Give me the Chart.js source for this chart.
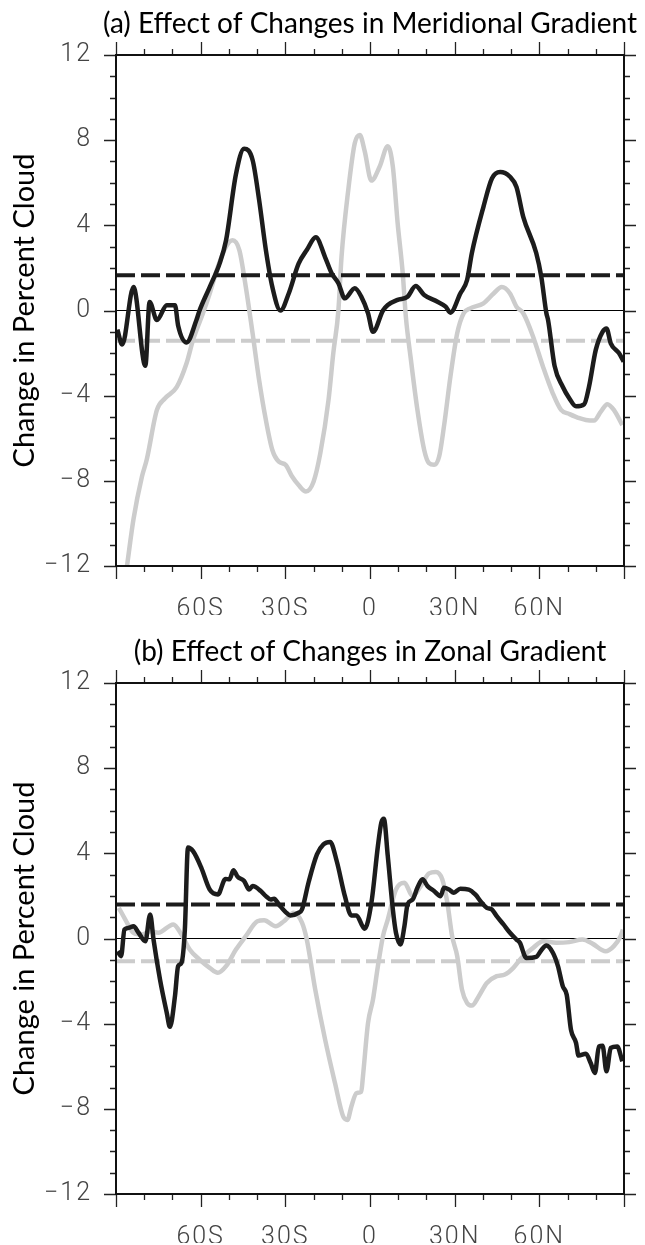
<!DOCTYPE html>
<html>
<head>
<meta charset="utf-8">
<script src="https://cdn.jsdelivr.net/npm/chart.js@4.4.1/dist/chart.umd.min.js"></script>
<style>
  body { margin: 0; background: #fff; width: 645px; height: 1245px; position: relative; overflow: hidden; }
  canvas { position: absolute; left: 0; }
  #chartA { top: 0; }
  #chartB { top: 628px; }
</style>
</head>
<body>
<canvas id="chartA" width="645" height="615"></canvas>
<canvas id="chartB" width="645" height="615"></canvas>
<script>
// latitude tick labels
const latTicks = [-60, -30, 0, 30, 60];
const latLabels = ['60S', '30S', '0', '30N', '60N'];
const cloudTicks = [-12, -8, -4, 0, 4, 8, 12];
const cloudLabels = ['\u221212', '\u22128', '\u22124', '0', '4', '8', '12'];

// (a) meridional gradient - black curve
const latA_black = [-89.5, -87.8, -83.8, -79.6, -78.1, -75.5, -72.0, -69.1, -68.0, -65.0, -61.5, -60.4,
  -56.8, -53.3, -51.0, -47.5, -44.6, -41.6, -39.3, -36.9, -34.6, -31.7, -28.8, -25.3, -22.4, -19.2,
  -15.9, -13.6, -11.2, -8.9, -5.4, -3.1, -0.7, 1.05, 4.6, 6.3, 9.8, 13.3, 16.2, 19.2, 23.9, 26.8, 28.5,
  32.0, 34.4, 36.1, 40.2, 43.2, 46.1, 49.6, 51.9, 54.3, 58.9, 60.7, 62.5, 63.1, 65.4, 68.3, 70.6, 73.0,
  75.9, 77.6, 80.0, 82.4, 83.8, 85.3, 88.2, 89.9];
const cloudA_black = [-0.9, -1.6, 1.1, -2.6, 0.4, -0.45, 0.25, 0.25, -0.7, -1.5, -0.45, 0,
  1.1, 2.2, 3.3, 6.4, 7.6, 7.07, 5.2, 2.84, 1.1, 0, 0.8, 2.2, 2.84, 3.44,
  2.5, 1.75, 1.28, 0.57, 1.04, 0.65, -0.13, -1.0, 0, 0.26, 0.5, 0.65, 1.15, 0.73, 0.41, 0.18, -0.1,
  0.8, 1.43, 2.7, 4.87, 6.2, 6.5, 6.28, 5.8, 4.4, 2.7, 1.58, -0.13, -0.45, -2.6, -3.58, -4.12, -4.5,
  -4.4, -3.58, -1.85, -1.0, -0.84, -1.54, -2.0, -2.4];

// (a) meridional gradient - grey curve
const latA_grey = [-88.0, -86.1, -83.8, -80.8, -79.1, -75.5, -72.6, -68.5, -65.0, -62.7, -59.2, -56.8,
  -53.9, -51.0, -48.7, -46.3, -44.0, -41.6, -39.3, -36.9, -34.6, -32.3, -29.9, -27.6, -25.3, -22.7,
  -20.0, -17.6, -14.7, -13.0, -11.2, -10.1, -7.7, -5.4, -3.6, -1.9, 0.5, 3.4, 6.3, 8.1, 9.8, 11.6,
  12.7, 14.5, 16.8, 19.2, 20.9, 22.7, 24.5, 26.2, 28.5, 30.9, 33.2, 35.5, 40.2, 43.8, 46.7, 49.6,
  51.9, 54.3, 57.8, 61.3, 64.8, 67.7, 70.6, 74.2, 76.5, 79.4, 81.8, 84.1, 86.4, 89.4];
const cloudA_grey = [-13.8, -12.0, -9.8, -7.8, -7.0, -4.67, -4.12, -3.6, -2.48, -1.38, -0.13, 0.8,
  2.05, 3.0, 3.3, 2.84, 1.1, -1.07, -3.26, -5.14, -6.55, -7.1, -7.25, -7.8, -8.2, -8.5,
  -8.04, -6.7, -4.2, -2.0, 0, 2.5, 5.66, 7.85, 8.24, 7.5, 6.1, 6.75, 7.72, 6.75, 4.1, 1.75,
  -0.29, -2.32, -4.67, -6.55, -7.17, -7.25, -6.86, -5.45, -3.1, -1.07, -0.13, 0.1, 0.34, 0.8, 1.1, 0.8,
  0.18, -0.13, -1.23, -2.64, -3.9, -4.67, -4.86, -5.06, -5.14, -5.17, -4.75, -4.4, -4.67, -5.38];

// (b) zonal gradient - black curve
const latB_black = [-89.4, -88.2, -87.0, -85.5, -83.8, -82.0, -79.6, -77.9, -76.7, -74.4, -72.0, -70.9,
  -69.1, -68.0, -66.8, -65.6, -64.5, -62.7, -59.8, -56.8, -53.9, -51.2, -49.8, -48.4, -46.9, -44.6,
  -42.8, -41.6, -38.7, -36.9, -35.2, -34.0, -32.3, -29.9, -28.2, -25.3, -24.1, -21.8, -18.8, -16.5,
  -14.1, -11.8, -8.9, -6.6, -4.8, -1.9, 0.5, 2.8, 4.0, 4.9, 6.3, 8.1, 9.2, 10.8, 12.2, 13.3, 15.1,
  16.8, 18.6, 20.4, 22.7, 25.0, 26.2, 28.0, 29.7, 32.0, 35.0, 37.3, 39.6, 41.4, 43.2, 44.9, 47.3,
  49.6, 51.9, 53.1, 55.4, 58.9, 60.7, 62.5, 64.8, 66.6, 68.3, 69.7, 71.2, 73.0, 73.9, 76.5, 78.2,
  79.7, 81.1, 82.4, 83.8, 85.3, 87.6, 89.4];
const cloudB_black = [-0.6, -0.83, 0.42, 0.5, 0.58, 0.27, -0.13, 1.13, -0.05, -1.93, -3.5, -4.15,
  -2.7, -1.3, -1.14, 0.42, 4.27, 4.1, 3.33, 2.3, 2.07, 2.8, 2.78, 3.2, 2.9, 2.7,
  2.3, 2.46, 2.23, 1.99, 1.83, 1.87, 1.6, 1.24, 1.08, 1.21, 1.36, 2.62, 3.95, 4.42,
  4.53, 3.64, 1.99, 1.08, 1.08, 0.46, 1.68, 4.34, 5.44, 5.63, 3.87, 1.36, 0.27, -0.28, 0.58, 1.6, 1.83,
  2.38, 2.78, 2.46, 2.23, 1.99, 2.38, 2.3, 2.15, 2.34, 2.3, 2.07, 1.68, 1.44, 1.36, 1.05, 0.66,
  0.27, -0.05, -0.2, -0.91, -0.86, -0.55, -0.33, -0.67, -1.3, -2.24, -2.64, -4.28, -4.9, -5.5, -5.41, -5.85,
  -6.32, -5.07, -5.04, -6.24, -5.14, -5.07, -5.77];

// (b) zonal gradient - grey curve
const latB_grey = [-89.0, -86.7, -83.8, -80.8, -77.9, -75.0, -69.7, -66.8, -63.9, -60.4, -56.8, -53.9,
  -51.0, -47.5, -44.0, -39.9, -37.5, -33.4, -30.5, -27.0, -24.1, -22.4, -19.4, -15.9, -12.4, -9.5,
  -8.0, -6.6, -4.8, -3.1, -2.5, -0.7, 1.05, 2.8, 4.6, 6.3, 9.2, 12.2, 15.1, 18.0, 20.9, 23.3, 25.6,
  27.4, 29.1, 30.9, 32.6, 34.4, 36.1, 38.5, 41.4, 44.9, 47.8, 50.8, 53.7, 57.8, 61.3, 66.0, 70.6,
  75.3, 78.8, 83.5, 86.4, 88.8, 89.6];
const cloudB_grey = [1.44, 0.89, 0.27, 0.19, 0.34, 0.27, 0.66, 0.19, -0.52, -0.99, -1.38, -1.61,
  -1.3, -0.52, 0.11, 0.81, 0.86, 0.58, 0.81, 1.21, 0.74, -0.05, -2.4, -4.75, -6.79, -8.36,
  -8.52, -7.89, -7.26, -7.2, -6.48, -3.97, -2.87, -1.3, 0.11, 0.89, 2.3, 2.62, 1.99, 2.46, 3.06, 3.12, 2.78,
  1.68, 0.11, -0.83, -2.4, -3.03, -3.15, -2.72, -2.09, -1.77, -1.69, -1.38, -0.91, -0.44, -0.13, -0.2, -0.17,
  -0.05, -0.24, -0.6, -0.36, 0.11, 0.42];

// global means (dashed lines): [black, grey]
const meanA = [1.65, -1.42];
const meanB = [1.6, -1.07];

const BLACK = '#1c1c1c';
const GREY = '#cccccc';
const yTitle = 'Change in Percent Cloud';

function pairs(xs, ys) {
  return xs.map((x, i) => ({ x: x, y: ys[i] }));
}

function flat(v) {
  return [{ x: -90, y: v }, { x: 90, y: v }];
}

// box, outward tick marks, panel title and y title
const framePlugin = {
  id: 'frame',
  beforeDraw(chart) {
    // the tick labels are set wide in the original
    chart.ctx.letterSpacing = '2px';
  },
  afterDraw(chart, args, opts) {
    const ctx = chart.ctx;
    ctx.letterSpacing = '0px';
    const a = chart.chartArea;
    const xs = chart.scales.x, ys = chart.scales.y;
    ctx.save();
    ctx.strokeStyle = '#222';
    ctx.lineWidth = 1.3;
    ctx.beginPath();
    for (let lat = -90; lat <= 90; lat += 10) {
      const px = Math.round(xs.getPixelForValue(lat)) + 0.5;
      const len = lat % 30 === 0 ? 13 : 6;
      ctx.moveTo(px, a.top); ctx.lineTo(px, a.top - len);
      ctx.moveTo(px, a.bottom); ctx.lineTo(px, a.bottom + len);
    }
    for (let v = -12; v <= 12; v += 1) {
      const py = Math.round(ys.getPixelForValue(v)) + 0.5;
      const len = v % 4 === 0 ? 12 : 6;
      ctx.moveTo(a.left, py); ctx.lineTo(a.left - len, py);
      ctx.moveTo(a.right, py); ctx.lineTo(a.right + len, py);
    }
    ctx.stroke();
    ctx.strokeStyle = '#111';
    ctx.lineWidth = 2;
    ctx.strokeRect(a.left, a.top, a.right - a.left, a.bottom - a.top);

    ctx.fillStyle = '#000';
    ctx.font = '28px Lato';
    ctx.textAlign = 'center';
    ctx.textBaseline = 'alphabetic';
    ctx.fillText(opts.text, (a.left + a.right) / 2, a.top - 22);

    ctx.translate(25, (a.top + a.bottom) / 2);
    ctx.rotate(-Math.PI / 2);
    ctx.font = '29px Lato';
    ctx.textBaseline = 'middle';
    ctx.fillText(yTitle, 0, 0);
    ctx.restore();
  }
};

function makeChart(id, title, bLat, bVal, gLat, gVal, means) {
  return new Chart(document.getElementById(id), {
    type: 'line',
    data: {
      datasets: [
        { data: pairs(bLat, bVal), borderColor: BLACK, borderWidth: 4.5, order: 0 },
        { data: flat(means[0]), borderColor: BLACK, borderWidth: 4, borderDash: [19, 6], order: 1 },
        { data: flat(means[1]), borderColor: GREY, borderWidth: 4, borderDash: [19, 6], order: 2 },
        { data: pairs(gLat, gVal), borderColor: GREY, borderWidth: 4.5, order: 3 }
      ]
    },
    options: {
      responsive: false,
      animation: false,
      devicePixelRatio: 1,
      layout: { padding: { top: 55, right: 17, left: 0, bottom: 0 } },
      elements: {
        point: { radius: 0 },
        line: { cubicInterpolationMode: 'monotone', fill: false, borderCapStyle: 'butt' }
      },
      plugins: {
        legend: { display: false },
        tooltip: { enabled: false },
        frame: { text: title }
      },
      scales: {
        x: {
          type: 'linear', min: -90, max: 90,
          afterFit: s => { s.height = 49; },
          border: { display: false },
          grid: { display: false },
          ticks: {
            stepSize: 30, autoSkip: false, maxRotation: 0, padding: 21,
            color: '#444', font: { family: 'Roboto', weight: 300, size: 25 },
            callback: v => { const i = latTicks.indexOf(v); return i >= 0 ? latLabels[i] : ''; }
          }
        },
        y: {
          type: 'linear', min: -12, max: 12,
          afterFit: s => { s.width = 116; },
          border: { display: false },
          grid: {
            drawTicks: false, lineWidth: 1,
            color: c => (c.tick && c.tick.value === 0 ? '#000' : 'rgba(0,0,0,0)')
          },
          ticks: {
            stepSize: 4, padding: 24,
            color: '#444', font: { family: 'Roboto', weight: 300, size: 25 },
            callback: v => { const i = cloudTicks.indexOf(v); return i >= 0 ? cloudLabels[i] : ''; }
          }
        }
      }
    },
    plugins: [framePlugin]
  });
}

makeChart('chartA', '(a) Effect of Changes in Meridional Gradient',
  latA_black, cloudA_black, latA_grey, cloudA_grey, meanA);
makeChart('chartB', '(b) Effect of Changes in Zonal Gradient',
  latB_black, cloudB_black, latB_grey, cloudB_grey, meanB);
</script>
</body>
</html>
